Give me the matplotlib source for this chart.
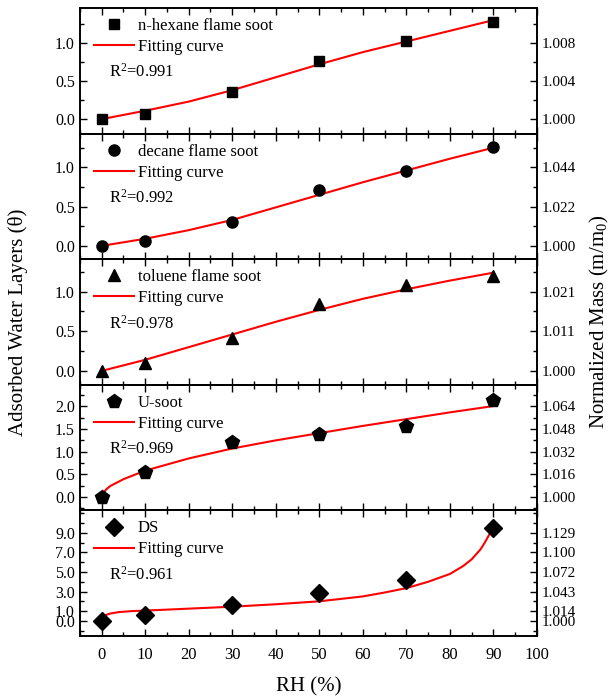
import matplotlib
matplotlib.use("Agg")
import matplotlib.pyplot as plt
from matplotlib.ticker import MultipleLocator

plt.rcParams['font.family'] = ['Liberation Serif', 'DejaVu Serif']
plt.rcParams['mathtext.fontset'] = 'custom'
plt.rcParams['mathtext.rm'] = 'Liberation Serif'
plt.rcParams['mathtext.it'] = 'Liberation Serif:italic'

# measured points (RH %, adsorbed water layers)
rh = [0, 10, 30, 50, 70, 90]
hexane = [0.0, 0.07, 0.35, 0.77, 1.03, 1.28]
decane = [0.0, 0.06, 0.31, 0.71, 0.95, 1.26]
toluene = [0.0, 0.10, 0.42, 0.84, 1.09, 1.20]
usoot = [0.0, 0.55, 1.22, 1.40, 1.57, 2.15]
ds = [0.0, 0.6, 1.6, 2.8, 4.2, 9.5]

# fitting curves
fit_x = [0, 10, 20, 30, 40, 50, 60, 70, 80, 90]
hexane_fit = [0.0, 0.11, 0.23, 0.38, 0.55, 0.72, 0.88, 1.02, 1.16, 1.30]
decane_fit = [0.0, 0.09, 0.20, 0.33, 0.49, 0.65, 0.81, 0.96, 1.11, 1.25]
toluene_fit = [0.0, 0.14, 0.30, 0.46, 0.62, 0.77, 0.91, 1.03, 1.14, 1.24]
usoot_fit_x = [0, 1, 2, 5, 10, 20, 30, 40, 50, 60, 70, 80, 90]
usoot_fit = [0.0, 0.16, 0.24, 0.39, 0.58, 0.85, 1.07, 1.25, 1.41, 1.57, 1.72, 1.87, 2.01]
ds_fit_x = [0, 1, 2, 4, 7, 10, 20, 30, 40, 50, 60, 65, 70, 75, 80, 83, 85, 87, 88, 89, 90]
ds_fit = [0.3, 0.6, 0.75, 0.9, 1.0, 1.05, 1.25, 1.45, 1.7, 2.0, 2.5, 2.9, 3.35, 4.0, 4.8, 5.6, 6.3, 7.3, 8.0, 8.8, 9.6]

names = ['n-hexane flame soot', 'decane flame soot', 'toluene flame soot', 'U-soot', 'DS']
r2_text = ['0.991', '0.992', '0.978', '0.969', '0.961']
markers = ['s', 'o', '^', 'p', 'D']
msizes = [7.5, 8, 9, 10, 9]

left_ticks = [[0.0, 0.5, 1.0], [0.0, 0.5, 1.0], [0.0, 0.5, 1.0],
              [0.0, 0.5, 1.0, 1.5, 2.0], [0.0, 1.0, 3.0, 5.0, 7.0, 9.0]]
right_labels = [['1.000', '1.004', '1.008'],
                ['1.000', '1.022', '1.044'],
                ['1.000', '1.011', '1.021'],
                ['1.000', '1.016', '1.032', '1.048', '1.064'],
                ['1.000', '1.014', '1.043', '1.072', '1.100', '1.129']]
ylims = [(-0.19, 1.46), (-0.17, 1.43), (-0.175, 1.41), (-0.30, 2.48), (-1.55, 11.3)]
minor_steps = [0.25, 0.25, 0.25, 0.25, 1.0]

series = [hexane, decane, toluene, usoot, ds]
fits = [(fit_x, hexane_fit), (fit_x, decane_fit), (fit_x, toluene_fit),
        (usoot_fit_x, usoot_fit), (ds_fit_x, ds_fit)]

fig, axes = plt.subplots(5, 1, sharex=True, figsize=(6.14, 7.0), dpi=100)
fig.subplots_adjust(left=0.130, right=0.8746, top=0.9886, bottom=0.0914, hspace=0)

for i, ax in enumerate(axes):
    ax.plot(rh, series[i], linestyle='none', marker=markers[i], markersize=msizes[i],
            color='black', label=names[i], zorder=3)
    ax.plot(fits[i][0], fits[i][1], color='red', linewidth=1.5, label='Fitting curve', zorder=2)

    ax.set_xlim(-5, 100)
    ax.set_ylim(*ylims[i])
    ax.set_yticks(left_ticks[i])
    ax.set_yticklabels(['%.1f' % t for t in left_ticks[i]], fontsize=11.5)
    ax.yaxis.set_minor_locator(MultipleLocator(minor_steps[i]))
    ax.xaxis.set_major_locator(MultipleLocator(10))
    ax.xaxis.set_minor_locator(MultipleLocator(5))
    ax.tick_params(which='both', direction='in', top=True, width=1)
    ax.tick_params(which='major', length=5)
    ax.tick_params(which='minor', length=3)
    for s in ax.spines.values():
        s.set_linewidth(1.2)

    ax2 = ax.twinx()
    ax2.set_ylim(*ylims[i])
    ax2.set_yticks(left_ticks[i])
    ax2.set_yticklabels(right_labels[i], fontsize=11)
    ax2.yaxis.set_minor_locator(MultipleLocator(minor_steps[i]))
    ax2.tick_params(which='both', direction='in', width=1)
    ax2.tick_params(which='major', length=5)
    ax2.tick_params(which='minor', length=3)
    for s in ax2.spines.values():
        s.set_linewidth(1.2)

    ax.legend(loc='upper left', bbox_to_anchor=(0.01, 1.0), frameon=False,
              fontsize=12, handlelength=2.4, handletextpad=0.2, labelspacing=0.3,
              borderaxespad=0.2)
    ax.text(0.063, 0.49, 'R$^2$=' + r2_text[i], transform=ax.transAxes,
            fontsize=12, va='center', ha='left')

axes[-1].tick_params(axis='x', labelsize=12, pad=8)
axes[-1].set_xlabel('RH (%)', fontsize=15, labelpad=10)

fig.text(0.03, 0.54, 'Adsorbed Water Layers (\u03b8)', rotation=90, fontsize=15,
         va='center', ha='center')
fig.text(0.976, 0.54, 'Normalized Mass (m/m$_0$)', rotation=90, fontsize=15,
         va='center', ha='center')

fig.savefig('out.png', dpi=100)
